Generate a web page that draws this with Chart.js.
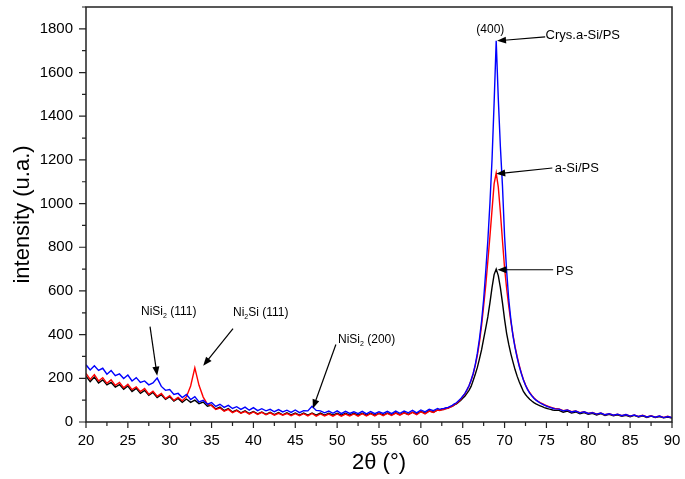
<!DOCTYPE html>
<html>
<head>
<meta charset="utf-8">
<title>XRD</title>
<script src="https://cdn.jsdelivr.net/npm/chart.js@4.4.1/dist/chart.umd.min.js"></script>
<style>
  html, body { margin: 0; padding: 0; background: #fff; }
</style>
</head>
<body>
<canvas id="xrdChart" width="685" height="479"></canvas>
<script>
// 2theta positions (deg)
var twoTheta = [
  20, 20.5, 21, 21.5, 22, 22.5, 23, 23.5, 24, 24.5,
  25, 25.5, 26, 26.5, 27, 27.5, 28, 28.5, 29, 29.5,
  30, 30.5, 31, 31.5, 32, 32.5, 33, 33.5, 34, 34.5,
  35, 35.5, 36, 36.5, 37, 37.5, 38, 38.5, 39, 39.5,
  40, 40.5, 41, 41.5, 42, 42.5, 43, 43.5, 44, 44.5,
  45, 45.5, 46, 46.5, 47, 47.5, 48, 48.5, 49, 49.5,
  50, 50.5, 51, 51.5, 52, 52.5, 53, 53.5, 54, 54.5,
  55, 55.5, 56, 56.5, 57, 57.5, 58, 58.5, 59, 59.5,
  60, 60.5, 61, 61.5, 62,
  62.25, 62.5, 62.75, 63, 63.25, 63.5, 63.75, 64,
  64.25, 64.5, 64.75, 65, 65.25, 65.5, 65.75, 66,
  66.25, 66.5, 66.75, 67, 67.25, 67.5, 67.75, 68,
  68.25, 68.5, 68.75, 69, 69.25, 69.5, 69.75, 70,
  70.25, 70.5, 70.75, 71, 71.25, 71.5, 71.75, 72,
  72.25, 72.5, 72.75, 73, 73.25, 73.5, 73.75, 74,
  74.25, 74.5, 74.75, 75, 75.25, 75.5, 75.75, 76,
  76.5, 77, 77.5, 78, 78.5, 79, 79.5, 80, 80.5, 81,
  81.5, 82, 82.5, 83, 83.5, 84, 84.5, 85, 85.5, 86,
  86.5, 87, 87.5, 88, 88.5, 89, 89.5, 90
];

// Crys.a-Si/PS
var crysASiPS = [
  262, 238, 257, 236, 246, 219, 236, 212, 220, 199,
  215, 188, 203, 181, 188, 170, 179, 201, 163, 145,
  149, 126, 131, 112, 126, 103, 116, 92, 99, 82,
  89, 71, 81, 67, 76, 62, 70, 58, 68, 54,
  66, 52, 61, 51, 58, 47, 57, 46, 54, 44,
  55, 43, 52, 51, 72, 53, 51, 42, 50, 40,
  51, 38, 49, 39, 47, 38, 49, 37, 48, 38,
  47, 39, 49, 38, 50, 40, 50, 42, 53, 42,
  55, 46, 58, 52, 62,
  58, 61, 62, 65, 67, 72, 76, 83,
  88, 97, 106, 118, 130, 147, 166, 191,
  222, 263, 315, 381, 460, 561, 690, 830,
  1000, 1200, 1460, 1745, 1480, 1260, 1080, 850,
  690, 560, 470, 395, 340, 295, 255, 222,
  192, 168, 148, 132, 120, 109, 100, 93,
  87, 82, 77, 73, 69, 66, 63, 60,
  59, 51, 55, 46, 50, 42, 47, 39, 43, 36,
  41, 33, 38, 31, 36, 29, 34, 27, 32, 25,
  30, 23, 28, 22, 27, 20, 25, 20
];

// a-Si/PS
var aSiPS = [
  222, 195, 217, 188, 203, 177, 193, 168, 181, 157,
  173, 148, 161, 139, 153, 127, 141, 118, 131, 107,
  121, 99, 113, 97, 116, 165, 248, 168, 114, 82,
  75, 57, 64, 49, 58, 43, 52, 40, 48, 36,
  46, 35, 44, 33, 42, 31, 40, 31, 39, 29,
  38, 29, 38, 28, 39, 27, 37, 28, 36, 27,
  37, 27, 36, 28, 37, 27, 38, 28, 38, 28,
  39, 29, 39, 30, 41, 31, 42, 33, 44, 34,
  47, 37, 50, 44, 55,
  53, 56, 57, 61, 63, 68, 72, 79,
  85, 94, 103, 116, 128, 146, 165, 191,
  220, 259, 305, 366, 440, 531, 625, 736,
  850, 970, 1090, 1140, 1075, 960, 830, 705,
  610, 530, 460, 400, 345, 300, 260, 225,
  195, 170, 150, 135, 122, 111, 102, 95,
  89, 84, 79, 75, 71, 68, 65, 62,
  60, 52, 55, 47, 50, 43, 47, 39, 44, 36,
  41, 33, 38, 31, 36, 29, 34, 27, 32, 25,
  31, 23, 29, 22, 27, 21, 26, 20
];

// PS
var ps = [
  210, 185, 206, 179, 193, 170, 181, 160, 171, 150,
  165, 140, 154, 131, 145, 122, 135, 112, 125, 104,
  116, 96, 108, 90, 105, 90, 100, 84, 91, 72,
  78, 60, 68, 52, 61, 46, 55, 42, 51, 39,
  48, 37, 46, 35, 44, 34, 43, 33, 42, 33,
  41, 32, 41, 32, 41, 31, 41, 31, 40, 31,
  40, 31, 40, 31, 40, 31, 40, 31, 40, 31,
  40, 32, 41, 33, 42, 34, 43, 35, 45, 37,
  48, 40, 51, 45, 55,
  54, 57, 58, 62, 64, 69, 72, 78,
  83, 91, 98, 109, 118, 131, 145, 163,
  190, 219, 250, 289, 330, 381, 430, 481,
  545, 615, 675, 700, 670, 615, 545, 470,
  405, 355, 312, 275, 240, 210, 184, 162,
  140, 126, 114, 104, 96, 89, 83, 78,
  74, 70, 66, 63, 60, 58, 55, 53,
  53, 45, 50, 41, 46, 38, 43, 35, 40, 32,
  38, 30, 35, 28, 33, 26, 31, 24, 30, 23,
  28, 21, 27, 20, 25, 19, 23, 18
];

var xMin = 20, xMax = 90, xStep = 5, xMinorStep = 2.5;
var yMin = 0, yMax = 1900, yStep = 200, yMinorStep = 100;

function toPoints(ys) {
  return twoTheta.map(function (x, i) { return { x: x, y: ys[i] }; });
}

// labels with arrows, in data units
var notes = [
  { text: ['(400)'], at: [68.3, 1795], align: 'center', size: 12, arrow: null },
  { text: ['Crys.a-Si/PS'], at: [74.9, 1770], align: 'left', size: 13, arrow: [[74.85, 1763], [69.1, 1745]] },
  { text: ['a-Si/PS'], at: [76.0, 1163], align: 'left', size: 13, arrow: [[75.7, 1163], [69.0, 1136]] },
  { text: ['PS'], at: [76.15, 690], align: 'left', size: 13, arrow: [[75.8, 697], [69.15, 697]] },
  { text: ['NiSi', '2', ' (111)'], at: [26.57, 504], align: 'left', size: 12, arrow: [[27.65, 437], [28.5, 212]] },
  { text: ['Ni', '2', 'Si (111)'], at: [37.56, 499], align: 'left', size: 12, arrow: [[37.56, 428], [34.0, 257]] },
  { text: ['NiSi', '2', ' (200)'], at: [50.1, 376], align: 'left', size: 12, arrow: [[49.85, 355], [47.1, 62]] }
];

var frameAndNotes = {
  id: 'frameAndNotes',
  afterDatasetsDraw: function (chart) {
    var ctx = chart.ctx, a = chart.chartArea;
    var xs = chart.scales.x, ys = chart.scales.y;
    ctx.save();
    ctx.strokeStyle = '#222';
    ctx.lineWidth = 1.5;
    ctx.strokeRect(a.left, a.top, a.right - a.left, a.bottom - a.top);

    // ticks, outward
    ctx.lineWidth = 1.2;
    ctx.beginPath();
    for (var v = xMin; v <= xMax + 1e-6; v += xMinorStep) {
      var px = xs.getPixelForValue(v);
      var len = (Math.abs(v / xStep - Math.round(v / xStep)) < 1e-6) ? 6 : 4;
      ctx.moveTo(px, a.bottom);
      ctx.lineTo(px, a.bottom + len);
    }
    for (var w = yMin; w <= yMax + 1e-6; w += yMinorStep) {
      var py = ys.getPixelForValue(w);
      var l2 = (w % yStep === 0) ? 7 : 4;
      ctx.moveTo(a.left, py);
      ctx.lineTo(a.left - l2, py);
    }
    ctx.stroke();

    // annotations
    ctx.fillStyle = '#000';
    ctx.strokeStyle = '#000';
    notes.forEach(function (n) {
      if (n.arrow) {
        var x0 = xs.getPixelForValue(n.arrow[0][0]), y0 = ys.getPixelForValue(n.arrow[0][1]);
        var x1 = xs.getPixelForValue(n.arrow[1][0]), y1 = ys.getPixelForValue(n.arrow[1][1]);
        var ang = Math.atan2(y1 - y0, x1 - x0);
        var hl = 9, hw = 3.5;
        ctx.lineWidth = 1.2;
        ctx.beginPath();
        ctx.moveTo(x0, y0);
        ctx.lineTo(x1 - Math.cos(ang) * hl * 0.8, y1 - Math.sin(ang) * hl * 0.8);
        ctx.stroke();
        ctx.beginPath();
        ctx.moveTo(x1, y1);
        ctx.lineTo(x1 - Math.cos(ang) * hl - Math.sin(ang) * hw, y1 - Math.sin(ang) * hl + Math.cos(ang) * hw);
        ctx.lineTo(x1 - Math.cos(ang) * hl + Math.sin(ang) * hw, y1 - Math.sin(ang) * hl - Math.cos(ang) * hw);
        ctx.closePath();
        ctx.fill();
      }
      var fMain = n.size + 'px "Liberation Sans", Arial, sans-serif';
      var fSub = Math.round(n.size * 0.62) + 'px "Liberation Sans", Arial, sans-serif';
      var tx = xs.getPixelForValue(n.at[0]), ty = ys.getPixelForValue(n.at[1]);
      ctx.textBaseline = 'middle';
      ctx.textAlign = 'left';
      var total = 0;
      n.text.forEach(function (s, i) {
        ctx.font = (i === 1 && n.text.length === 3) ? fSub : fMain;
        total += ctx.measureText(s).width;
      });
      var cx = n.align === 'center' ? tx - total / 2 : tx;
      n.text.forEach(function (s, i) {
        var sub = (i === 1 && n.text.length === 3);
        ctx.font = sub ? fSub : fMain;
        ctx.fillText(s, cx, sub ? ty + 4 : ty);
        cx += ctx.measureText(s).width;
      });
    });
    ctx.restore();
  }
};

Chart.defaults.color = '#000';
Chart.defaults.font.family = '"Liberation Sans", Arial, sans-serif';

var xrdChart = new Chart(document.getElementById('xrdChart').getContext('2d'), {
  type: 'line',
  data: {
    datasets: [
      { label: 'Crys.a-Si/PS', data: toPoints(crysASiPS), borderColor: '#0000ff', borderWidth: 1.4, pointRadius: 0, tension: 0 },
      { label: 'a-Si/PS', data: toPoints(aSiPS), borderColor: '#ff0000', borderWidth: 1.4, pointRadius: 0, tension: 0 },
      { label: 'PS', data: toPoints(ps), borderColor: '#000000', borderWidth: 1.4, pointRadius: 0, tension: 0 }
    ]
  },
  options: {
    responsive: false,
    animation: false,
    layout: { padding: { top: 7, right: 13, left: 0, bottom: 0 } },
    plugins: { legend: { display: false }, tooltip: { enabled: false } },
    scales: {
      x: {
        type: 'linear',
        min: xMin,
        max: xMax,
        grid: { display: false, drawTicks: false },
        border: { display: false },
        ticks: { stepSize: xStep, padding: 10, font: { size: 15 } },
        title: { display: true, text: '2θ (°)', font: { size: 22 }, padding: { top: 0, bottom: 3 } },
        afterFit: function (s) { s.height = 57; s.paddingLeft = 0; s.paddingRight = 0; s.paddingTop = 0; s.paddingBottom = 0; }
      },
      y: {
        min: yMin,
        max: yMax,
        grid: { display: false, drawTicks: false },
        border: { display: false },
        ticks: {
          stepSize: yStep,
          padding: 13,
          font: { size: 15 },
          callback: function (v) { return v % yStep === 0 ? v : ''; }
        },
        title: { display: true, text: 'intensity (u.a.)', font: { size: 22 }, padding: { top: 10, bottom: 0 } },
        afterFit: function (s) { s.width = 86; s.paddingLeft = 0; s.paddingRight = 0; s.paddingTop = 0; s.paddingBottom = 0; }
      }
    }
  },
  plugins: [frameAndNotes]
});
</script>
</body>
</html>
